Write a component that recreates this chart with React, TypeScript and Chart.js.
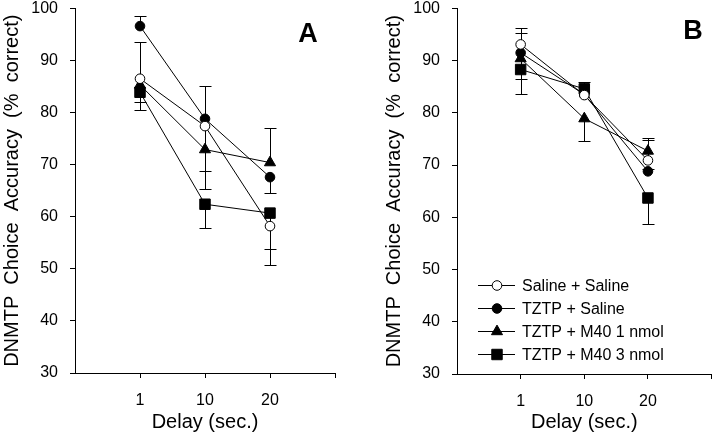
import React, { useEffect, useRef } from "react";
import { Chart, registerables } from "chart.js";

Chart.register(...registerables);

const FONT = '"Liberation Sans", Arial, Helvetica, sans-serif';

// Categories (delay in seconds)
const delays = ["1", "10", "20"];
const seriesNames = ["Saline + Saline", "TZTP + Saline", "TZTP + M40 1 nmol", "TZTP + M40 3 nmol"];
const yMin = 30;
const yMax = 100;
const yStep = 10;

// Panel A values (% correct)
const aSalineSaline = [86.5, 77.4, 58.2];
const aTztpSaline = [96.6, 78.8, 67.6];
const aM40one = [85.3, 72.9, 70.4];
const aM40three = [83.9, 62.4, 60.7];
// Panel A error bar ends (null = not drawn)
const aSalineSalineUp = [93.5, null, null];
const aSalineSalineDown = [null, 65.4, 53.9];
const aTztpSalineUp = [98.5, 85.1, null];
const aTztpSalineDown = [null, null, 64.6];
const aM40oneUp = [null, null, 77.1];
const aM40oneDown = [82.0, 68.8, null];
const aM40threeUp = [null, null, null];
const aM40threeDown = [80.4, 57.9, 50.8];

// Panel B values (% correct)
const bSalineSaline = [93.1, 83.4, 70.9];
const bTztpSaline = [91.5, 83.5, 68.8];
const bM40one = [90.4, 78.9, 72.7];
const bM40three = [88.3, 84.6, 63.7];
// Panel B error bar ends
const bSalineSalineUp = [96.2, null, 74.8];
const bSalineSalineDown = [null, null, null];
const bTztpSalineUp = [95.3, null, 69.3];
const bTztpSalineDown = [null, null, null];
const bM40oneUp = [null, null, 75.2];
const bM40oneDown = [86.4, 74.6, null];
const bM40threeUp = [null, 86.0, null];
const bM40threeDown = [83.7, null, 58.8];

const pointStyles = ["circle", "circle", "triangle", "rect"];
const pointFills = ["#ffffff", "#000000", "#000000", "#000000"];
const pointRadii = [4.8, 4.8, 6.4, 7.4];

type Err = { up: (number | null)[]; down: (number | null)[] };

type PanelSpec = {
  letter: string;
  letterX: number;
  letterY: number;
  values: number[][];
  errors: Err[];
  legend: boolean;
  padRight: number;
  yWidth: number;
  xHeight: number;
  yLabelPad: number;
  yTitlePad: number;
};

function drawMarker(ctx: CanvasRenderingContext2D, style: string, x: number, y: number, r: number, fill: string) {
  ctx.save();
  ctx.fillStyle = fill;
  ctx.strokeStyle = "#000";
  ctx.lineWidth = 1;
  ctx.beginPath();
  if (style === "circle") {
    ctx.arc(x, y, r, 0, Math.PI * 2);
  } else if (style === "triangle") {
    const a = -Math.PI / 2;
    for (let k = 0; k < 3; k++) {
      const ang = a + (k * 2 * Math.PI) / 3;
      const px = x + Math.cos(ang) * r;
      const py = y + Math.sin(ang) * r;
      if (k === 0) ctx.moveTo(px, py);
      else ctx.lineTo(px, py);
    }
    ctx.closePath();
  } else {
    const s = Math.SQRT1_2 * r;
    ctx.rect(x - s, y - s, 2 * s, 2 * s);
  }
  ctx.fill();
  ctx.stroke();
  ctx.restore();
}

function makePlugin(spec: PanelSpec) {
  return {
    id: "panelExtras" + spec.letter,
    beforeDatasetsDraw(chart: any) {
      const { ctx } = chart;
      const xs = chart.scales.x;
      const ys = chart.scales.y;
      ctx.save();
      ctx.strokeStyle = "#000";
      ctx.lineWidth = 1;
      spec.values.forEach((vals, i) => {
        const e = spec.errors[i];
        vals.forEach((v, j) => {
          const px = Math.round(xs.getPixelForValue(j + 1)) + 0.5;
          const py = ys.getPixelForValue(v);
          [e.up[j], e.down[j]].forEach((end) => {
            if (end == null) return;
            const ey = Math.round(ys.getPixelForValue(end)) + 0.5;
            ctx.beginPath();
            ctx.moveTo(px, py);
            ctx.lineTo(px, ey);
            ctx.moveTo(px - 6, ey);
            ctx.lineTo(px + 6, ey);
            ctx.stroke();
          });
        });
      });
      ctx.restore();
    },
    afterDraw(chart: any) {
      const { ctx } = chart;
      ctx.save();
      ctx.fillStyle = "#000";
      ctx.font = `bold 27px ${FONT}`;
      ctx.textAlign = "center";
      ctx.textBaseline = "middle";
      ctx.fillText(spec.letter, spec.letterX, spec.letterY);
      if (spec.legend) {
        const rows = [285, 308, 331, 354];
        ctx.font = `16px ${FONT}`;
        ctx.textAlign = "left";
        ctx.textBaseline = "middle";
        seriesNames.forEach((name, i) => {
          const y = rows[i] + 0.5;
          ctx.strokeStyle = "#000";
          ctx.lineWidth = 1;
          ctx.beginPath();
          ctx.moveTo(118, y);
          ctx.lineTo(155, y);
          ctx.stroke();
          drawMarker(ctx, pointStyles[i], 137, y, pointRadii[i], pointFills[i]);
          ctx.fillStyle = "#000";
          ctx.fillText(name, 162, y + 1);
        });
      }
      ctx.restore();
    },
  };
}

function Panel({ spec }: { spec: PanelSpec }) {
  const ref = useRef<HTMLCanvasElement | null>(null);
  useEffect(() => {
    if (!ref.current) return;
    const datasets = spec.values.map((vals, i) => ({
      label: seriesNames[i],
      data: vals.map((v, j) => ({ x: j + 1, y: v })),
      borderColor: "#000",
      borderWidth: 1,
      pointStyle: pointStyles[i],
      pointRadius: pointRadii[i],
      pointHoverRadius: pointRadii[i],
      pointBackgroundColor: pointFills[i],
      pointBorderColor: "#000",
      pointBorderWidth: 1,
      fill: false,
      tension: 0,
      clip: false as any,
    }));
    const chart = new Chart(ref.current, {
      type: "line",
      data: { datasets },
      options: {
        responsive: false,
        animation: false,
        events: [],
        layout: { padding: { top: 8, right: spec.padRight, left: 0, bottom: 0 } },
        plugins: { legend: { display: false }, tooltip: { enabled: false } },
        scales: {
          x: {
            type: "linear",
            min: 0,
            max: delays.length + 1,
            afterBuildTicks: (s: any) => {
              s.ticks = s.ticks.filter((t: any) => t.value > 0);
            },
            afterFit: (s: any) => {
              s.height = spec.xHeight;
              s.paddingLeft = 0;
              s.paddingRight = 0;
            },
            ticks: {
              stepSize: 1,
              autoSkip: false,
              maxRotation: 0,
              padding: 13,
              color: "#000",
              font: { family: FONT, size: 16 },
              callback: (v: any) => (v >= 1 && v <= delays.length ? delays[v - 1] : ""),
            },
            grid: { drawOnChartArea: false, drawTicks: true, tickLength: 5, color: "#000" },
            border: { color: "#000", width: 1 },
            title: {
              display: true,
              text: "Delay (sec.)",
              color: "#000",
              font: { family: FONT, size: 20 },
              padding: { top: 0, bottom: 2 },
            },
          },
          y: {
            min: yMin,
            max: yMax,
            afterFit: (s: any) => {
              s.width = spec.yWidth;
              s.paddingTop = 0;
              s.paddingBottom = 0;
            },
            ticks: {
              stepSize: yStep,
              padding: spec.yLabelPad,
              color: "#000",
              font: { family: FONT, size: 16 },
            },
            grid: { drawOnChartArea: false, drawTicks: true, tickLength: 5, color: "#000" },
            border: { color: "#000", width: 1 },
            title: {
              display: true,
              text: "DNMTP  Choice  Accuracy  (%  correct)",
              color: "#000",
              font: { family: FONT, size: 20 },
              padding: { top: spec.yTitlePad, bottom: 0 },
            },
          },
        },
      },
      plugins: [makePlugin(spec)],
    });
    return () => chart.destroy();
  }, [spec]);
  return <canvas ref={ref} width={360} height={436} style={{ display: "block", width: 360, height: 436 }} />;
}

const specA: PanelSpec = {
  letter: "A",
  letterX: 308,
  letterY: 35,
  values: [aSalineSaline, aTztpSaline, aM40one, aM40three],
  errors: [
    { up: aSalineSalineUp, down: aSalineSalineDown },
    { up: aTztpSalineUp, down: aTztpSalineDown },
    { up: aM40oneUp, down: aM40oneDown },
    { up: aM40threeUp, down: aM40threeDown },
  ],
  legend: false,
  padRight: 25,
  yWidth: 75,
  xHeight: 63,
  yLabelPad: 12,
  yTitlePad: 0,
};

const specB: PanelSpec = {
  letter: "B",
  letterX: 333,
  letterY: 32,
  values: [bSalineSaline, bTztpSaline, bM40one, bM40three],
  errors: [
    { up: bSalineSalineUp, down: bSalineSalineDown },
    { up: bTztpSalineUp, down: bTztpSalineDown },
    { up: bM40oneUp, down: bM40oneDown },
    { up: bM40threeUp, down: bM40threeDown },
  ],
  legend: true,
  padRight: 3,
  yWidth: 97,
  xHeight: 62,
  yLabelPad: 12,
  yTitlePad: 22,
};

export default function App() {
  return (
    <div
      style={{
        position: "fixed",
        left: 0,
        top: 0,
        width: 720,
        height: 436,
        display: "flex",
        background: "#fff",
      }}
    >
      <Panel spec={specA} />
      <Panel spec={specB} />
    </div>
  );
}
